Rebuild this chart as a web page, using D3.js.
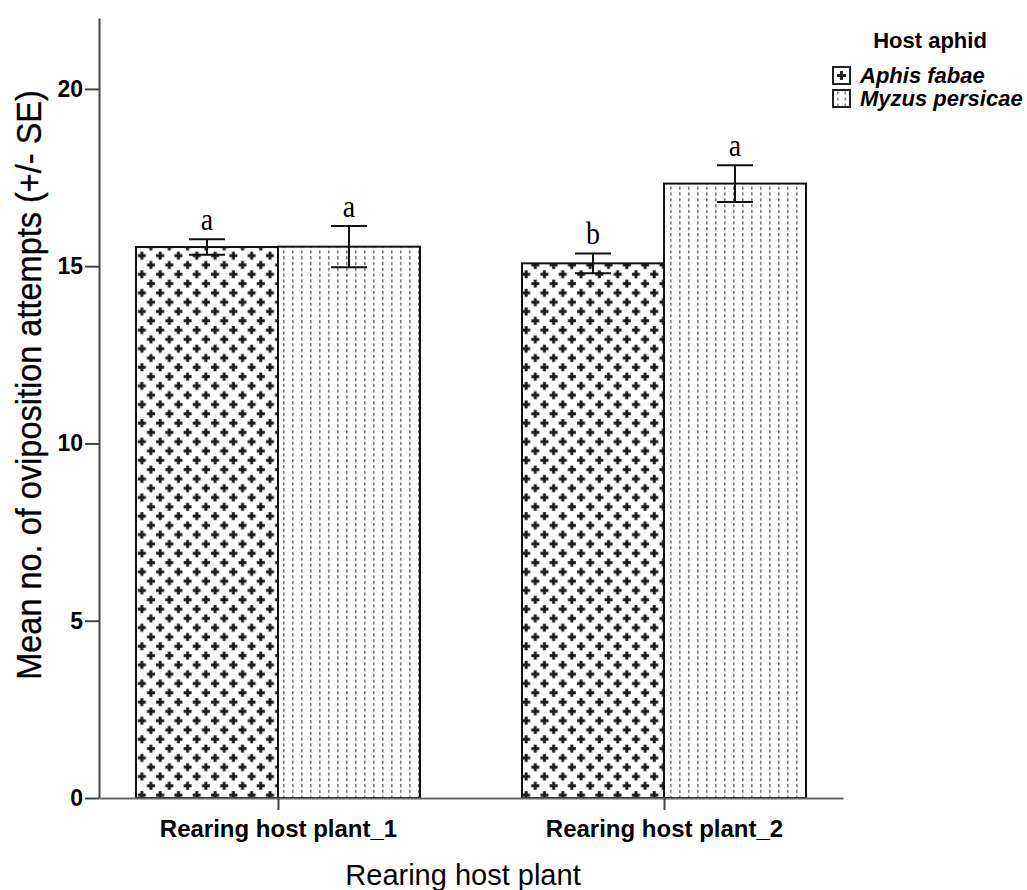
<!DOCTYPE html>
<html>
<head>
<meta charset="utf-8">
<script src="https://cdn.jsdelivr.net/npm/d3@7"></script>
<style>
  body { margin: 0; background: #fff; }
  svg text { font-family: "Liberation Sans", Arial, sans-serif; }
</style>
</head>
<body>
<div id="chart"></div>
<script>
const groups = ["Rearing host plant_1", "Rearing host plant_2"];
const hosts = ["Aphis fabae", "Myzus persicae"];
const meanAphis = [15.54, 15.08];
const meanMyzus = [15.55, 17.33];
const seAphis = [0.22, 0.28];
const seMyzus = [0.58, 0.52];
const letterAphis = ["a", "b"];
const letterMyzus = ["a", "a"];
const yTicks = [0, 5, 10, 15, 20];

const width = 1027, height = 890;
const plotLeft = 99, plotRight = 843, plotTop = 18, plotBottom = 798;

const svg = d3.select("#chart").append("svg")
    .attr("width", width)
    .attr("height", height);

// patterns
const defs = svg.append("defs");
const cross = defs.append("pattern")
    .attr("id", "cross")
    .attr("patternUnits", "userSpaceOnUse")
    .attr("width", 18.3).attr("height", 18.6);
cross.append("rect").attr("width", 18.3).attr("height", 18.6).attr("fill", "#fff");
[[4.6, 4.6], [13.75, 13.9]].forEach(function(c) {
  cross.append("rect").attr("x", c[0] - 4).attr("y", c[1] - 1.5).attr("width", 8).attr("height", 3).attr("fill", "#1c1c1c");
  cross.append("rect").attr("x", c[0] - 1.5).attr("y", c[1] - 4).attr("width", 3).attr("height", 8).attr("fill", "#1c1c1c");
});

const dots = defs.append("pattern")
    .attr("id", "dots")
    .attr("patternUnits", "userSpaceOnUse")
    .attr("width", 9).attr("height", 5.8);
dots.append("rect").attr("width", 9).attr("height", 5.8).attr("fill", "#fff");
dots.append("rect").attr("x", 4).attr("y", 1).attr("width", 1.6).attr("height", 3.2).attr("fill", "#7a7a7a");

// legend swatch versions (one motif per box)
const crossLeg = defs.append("pattern")
    .attr("id", "crossLeg")
    .attr("patternUnits", "userSpaceOnUse")
    .attr("width", 17).attr("height", 17);
crossLeg.append("rect").attr("width", 17).attr("height", 17).attr("fill", "#fff");
crossLeg.append("rect").attr("x", 4).attr("y", 7).attr("width", 9).attr("height", 3).attr("fill", "#222");
crossLeg.append("rect").attr("x", 7).attr("y", 4).attr("width", 3).attr("height", 9).attr("fill", "#222");

const dotsLeg = defs.append("pattern")
    .attr("id", "dotsLeg")
    .attr("patternUnits", "userSpaceOnUse")
    .attr("width", 17).attr("height", 6);
dotsLeg.append("rect").attr("width", 17).attr("height", 6).attr("fill", "#fff");
dotsLeg.append("rect").attr("x", 4).attr("y", 1.5).attr("width", 1.6).attr("height", 3).attr("fill", "#888");
dotsLeg.append("rect").attr("x", 11.5).attr("y", 1.5).attr("width", 1.6).attr("height", 3).attr("fill", "#888");

const fills = {"Aphis fabae": "url(#cross)", "Myzus persicae": "url(#dots)"};
const legFills = {"Aphis fabae": "url(#crossLeg)", "Myzus persicae": "url(#dotsLeg)"};

// scales
const y = d3.scaleLinear().domain([0, 22]).range([plotBottom, plotTop]);
const x0 = d3.scalePoint().domain(groups).range([plotLeft, plotRight]).padding(0.4637);
const x1 = d3.scaleBand().domain(hosts).range([-142, 142]).padding(0);

const rows = [];
groups.forEach(function(g, i) {
  rows.push({group: g, host: hosts[0], mean: meanAphis[i], se: seAphis[i], letter: letterAphis[i]});
  rows.push({group: g, host: hosts[1], mean: meanMyzus[i], se: seMyzus[i], letter: letterMyzus[i]});
});

// bars
svg.append("g").selectAll("rect")
  .data(rows).enter().append("rect")
    .attr("x", d => x0(d.group) + x1(d.host))
    .attr("y", d => y(d.mean))
    .attr("width", x1.bandwidth())
    .attr("height", d => y(0) - y(d.mean))
    .attr("fill", d => fills[d.host])
    .attr("stroke", "#111")
    .attr("stroke-width", 2);

// error bars
const eb = svg.append("g").selectAll("g").data(rows).enter().append("g")
    .attr("transform", d => "translate(" + (x0(d.group) + x1(d.host) + x1.bandwidth() / 2) + ",0)");
eb.append("line").attr("x1", 0).attr("x2", 0)
    .attr("y1", d => y(d.mean + d.se)).attr("y2", d => y(d.mean - d.se))
    .attr("stroke", "#111").attr("stroke-width", 2);
eb.append("line").attr("x1", -18).attr("x2", 18)
    .attr("y1", d => y(d.mean + d.se)).attr("y2", d => y(d.mean + d.se))
    .attr("stroke", "#111").attr("stroke-width", 2);
eb.append("line").attr("x1", -18).attr("x2", 18)
    .attr("y1", d => y(d.mean - d.se)).attr("y2", d => y(d.mean - d.se))
    .attr("stroke", "#111").attr("stroke-width", 2);
eb.append("text")
    .attr("transform", d => "translate(0," + (y(d.mean + d.se) - 9) + ") scale(1,1.15)")
    .attr("text-anchor", "middle")
    .style("font-family", "'Liberation Serif', 'Times New Roman', serif")
    .style("font-size", "28px")
    .attr("fill", "#000")
    .text(d => d.letter);

// axes
const yAxis = svg.append("g")
    .attr("transform", "translate(" + plotLeft + ",0)")
    .call(d3.axisLeft(y).tickValues(yTicks).tickSize(14).tickPadding(2).tickSizeOuter(0));
yAxis.select(".domain").attr("stroke", "#444").attr("stroke-width", 2);
yAxis.selectAll(".tick line").attr("stroke", "#444").attr("stroke-width", 2);
yAxis.selectAll(".tick text")
    .style("font-size", "23px").style("font-weight", "bold").attr("fill", "#000");

const xAxis = svg.append("g")
    .attr("transform", "translate(0," + plotBottom + ")")
    .call(d3.axisBottom(x0).tickSize(12).tickPadding(10).tickSizeOuter(0));
xAxis.select(".domain").attr("stroke", "#666").attr("stroke-width", 2);
xAxis.selectAll(".tick line").attr("stroke", "#444").attr("stroke-width", 2);
xAxis.selectAll(".tick text")
    .style("font-size", "24px").style("font-weight", "bold").attr("fill", "#000");

// axis titles
svg.append("text")
    .attr("x", (plotLeft + plotRight) / 2 - 8)
    .attr("y", 885)
    .attr("text-anchor", "middle")
    .style("font-size", "29px")
    .attr("fill", "#000")
    .text("Rearing host plant");

svg.append("text")
    .attr("transform", "translate(41,385) rotate(-90) scale(1,1.1)")
    .attr("text-anchor", "middle")
    .style("font-size", "32.5px")
    .attr("fill", "#000")
    .attr("stroke", "#000").attr("stroke-width", 0.3)
    .text("Mean no. of oviposition attempts (+/- SE)");

// legend
svg.append("text")
    .attr("x", 930).attr("y", 48)
    .attr("text-anchor", "middle")
    .style("font-size", "22px").style("font-weight", "bold")
    .text("Host aphid");

const leg = svg.append("g").selectAll("g").data(hosts).enter().append("g")
    .attr("transform", (d, i) => "translate(833," + (67 + i * 23) + ")");
leg.append("rect")
    .attr("width", 17).attr("height", 17)
    .attr("fill", d => legFills[d])
    .attr("stroke", "#222").attr("stroke-width", 2);
leg.append("text")
    .attr("x", 27).attr("y", 16)
    .style("font-size", "22px").style("font-weight", "bold").style("font-style", "italic")
    .text(d => d);
</script>
</body>
</html>
